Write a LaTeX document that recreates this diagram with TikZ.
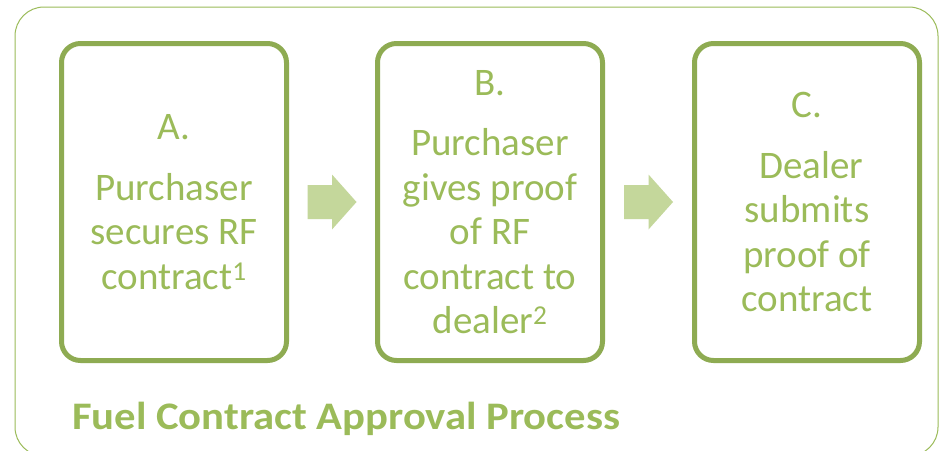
\documentclass[tikz,border=0pt]{standalone}
\usepackage{fontspec}
\setmainfont{Carlito}
\usetikzlibrary{calc}
\definecolor{boxcol}{RGB}{142,171,82}
\definecolor{txtcol}{RGB}{155,187,89}
\definecolor{arrcol}{RGB}{196,215,155}
\definecolor{outcol}{RGB}{155,187,89}
\tikzset{
  stepbox/.style={draw=boxcol, line width=5pt, rounded corners=19pt,
    minimum width=225pt, minimum height=317pt, inner sep=0pt,
    align=center, text=txtcol,
    font=\fontsize{39}{44.5}\selectfont},
  blockarrow/.style={fill=arrcol, draw=none}
}
\begin{document}
\begin{tikzpicture}[x=1pt,y=-1pt]
\useasboundingbox (0,0) rectangle (942,450);
\fill[white] (0,0) rectangle (942,450);
\draw[outcol, line width=1pt, rounded corners=29pt] (15,7) rectangle (938,456);
\node[stepbox] (A) at (174,202) {A.\\[16pt]Purchaser\\secures RF\\contract\textsuperscript{1}};
\node[stepbox] (B) at (490,202) {B.\\[16pt]Purchaser\\gives proof\\of RF\\contract to\\dealer\textsuperscript{2}};
\node[stepbox] (C) at (807,202) {C.\\[16pt]\ Dealer\\submits\\proof of\\contract};
\coordinate (m1) at ($(A.east)!0.5!(B.west)$);
\coordinate (m2) at ($(B.east)!0.5!(C.west)$);
\foreach \m in {m1,m2}{
  \fill[blockarrow] ([shift={(-24.5,-17)}]\m) -- ([shift={(0,-17)}]\m) -- ([shift={(0,-27.5)}]\m)
     -- ([shift={(24.5,0)}]\m) -- ([shift={(0,27.5)}]\m) -- ([shift={(0,17)}]\m)
     -- ([shift={(-24.5,17)}]\m) -- cycle;
}
\node[anchor=base west, inner sep=0pt, text=txtcol, font=\fontsize{39}{46}\selectfont\bfseries] (T) at (72,429) {\scalebox{1.094}[1]{Fuel Contract Approval Process}};
\end{tikzpicture}
\end{document}
